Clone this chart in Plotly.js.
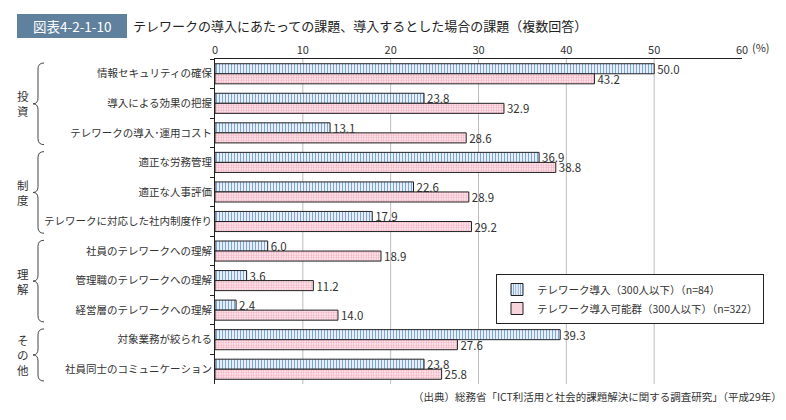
<!DOCTYPE html>
<html>
<head>
<meta charset="utf-8">
<script src="https://cdn.plot.ly/plotly-3.0.1.min.js"></script>
<style>
  body { margin: 0; background: white; overflow: hidden; }
  #chart { width: 786px; height: 420px; }
</style>
</head>
<body>
<div id="chart"></div>
<script>
// categories, top to bottom
const categories = [
    '情報セキュリティの確保',
    '導入による効果の把握',
    'テレワークの導入･運用コスト',
    '適正な労務管理',
    '適正な人事評価',
    'テレワークに対応した社内制度作り',
    '社員のテレワークへの理解',
    '管理職のテレワークへの理解',
    '経営層のテレワークへの理解',
    '対象業務が絞られる',
    '社員同士のコミュニケーション'
];
const adopted = [50.0, 23.8, 13.1, 36.9, 22.6, 17.9, 6.0, 3.6, 2.4, 39.3, 23.8];
const possible = [43.2, 32.9, 28.6, 38.8, 28.9, 29.2, 18.9, 11.2, 14.0, 27.6, 25.8];
const seriesNames = ['テレワーク導入（300人以下）（n=84）', 'テレワーク導入可能群（300人以下）（n=322）'];
const tickValues = [0, 10, 20, 30, 40, 50, 60];
const gridValues = [10, 20, 30, 40, 50];

// group brackets: label, first row, last row (exclusive)
const groupLabels = ['投<br>資', '制<br>度', '理<br>解', 'そ<br>の<br>他'];
const groupStart = [0, 3, 6, 9];
const groupEnd = [3, 6, 9, 11];

const W = 786, H = 420;
const M = { l: 215, r: 44, t: 59, b: 36, autoexpand: false };
const pw = W - M.l - M.r;
const ph = H - M.t - M.b;
const pitch = ph / categories.length;
const fx = p => (p - M.l) / pw;
const fy = p => (H - M.b - p) / ph;

const font = '"Noto Sans CJK JP", "Noto Sans", sans-serif';

const traces = [
    {
        type: 'bar', orientation: 'h',
        name: seriesNames[0],
        y: categories, x: adopted,
        marker: {
            color: 'white',
            line: { color: '#222', width: 1 },
            pattern: { shape: '|', fgcolor: '#7aa5de', bgcolor: 'white', size: 3, solidity: 0.45 }
        },
        text: adopted.map(v => v.toFixed(1)),
        textposition: 'outside',
        constraintext: 'none',
        textfont: { size: 11.5, color: '#333' },
        cliponaxis: false,
        hoverinfo: 'x'
    },
    {
        type: 'bar', orientation: 'h',
        name: seriesNames[1],
        y: categories, x: possible,
        marker: {
            color: '#fdeef2',
            line: { color: '#222', width: 1 },
            pattern: { shape: '.', fgcolor: '#f3a8ba', bgcolor: '#fdf0f4', size: 2.5, solidity: 0.45 }
        },
        text: possible.map(v => v.toFixed(1)),
        textposition: 'outside',
        constraintext: 'none',
        textfont: { size: 11.5, color: '#333' },
        cliponaxis: false,
        hoverinfo: 'x'
    }
];

// curly braces drawn in pixel terms, converted to paper coords
function bracePath(yt, yb) {
    const xr = 44, xs = 38, xp = 33, r = 6;
    const ym = (yt + yb) / 2;
    const P = (x, y) => fx(x) + ',' + fy(y);
    return 'M' + P(xr, yt) + ' Q' + P(xs, yt) + ' ' + P(xs, yt + r) +
        ' L' + P(xs, ym - r) + ' Q' + P(xs, ym) + ' ' + P(xp, ym) +
        ' Q' + P(xs, ym) + ' ' + P(xs, ym + r) +
        ' L' + P(xs, yb - r) + ' Q' + P(xs, yb) + ' ' + P(xr, yb);
}

const shapes = [];
const annotations = [];

// vertical gridlines (not at 0 or 60)
gridValues.forEach(v => {
    shapes.push({
        type: 'line', xref: 'x', yref: 'paper',
        x0: v, x1: v, y0: 0, y1: 1,
        layer: 'below',
        line: { color: '#bdbdbd', width: 1 }
    });
});

groupLabels.forEach((lab, i) => {
    const yt = M.t + groupStart[i] * pitch + 4;
    const yb = M.t + groupEnd[i] * pitch - 3;
    shapes.push({
        type: 'path', xref: 'paper', yref: 'paper',
        path: bracePath(yt, yb),
        line: { color: '#444', width: 1 }
    });
    annotations.push({
        xref: 'paper', yref: 'paper',
        x: fx(23), y: fy((yt + yb) / 2),
        text: lab, showarrow: false,
        xanchor: 'center', yanchor: 'middle',
        font: { size: 11.5, color: '#333', family: font }
    });
});

// figure number box + title
shapes.push({
    type: 'rect', xref: 'paper', yref: 'paper',
    x0: fx(17), x1: fx(127), y0: fy(14), y1: fy(38),
    fillcolor: '#5f819d', line: { width: 0 }
});
annotations.push({
    xref: 'paper', yref: 'paper', x: fx(72), y: fy(26),
    xanchor: 'center', yanchor: 'middle',
    text: '図表4-2-1-10', showarrow: false,
    font: { size: 13.5, color: 'white', family: font }
});
annotations.push({
    xref: 'paper', yref: 'paper', x: fx(131), y: fy(26),
    xanchor: 'left', yanchor: 'middle',
    text: 'テレワークの導入にあたっての課題、導入するとした場合の課題（複数回答）', showarrow: false,
    font: { size: 13, color: '#222', family: font }
});
// unit after the 60 tick
annotations.push({
    xref: 'paper', yref: 'paper', x: fx(750), y: fy(47),
    xanchor: 'left', yanchor: 'middle',
    text: '(%)', showarrow: false,
    font: { size: 11, color: '#333', family: font }
});
// source
annotations.push({
    xref: 'paper', yref: 'paper', x: fx(411), y: fy(396),
    xanchor: 'left', yanchor: 'middle',
    text: '（出典）総務省「ICT利活用と社会的課題解決に関する調査研究」（平成29年）', showarrow: false,
    font: { size: 10.5, color: '#333', family: font }
});

const layout = {
    width: W, height: H,
    margin: M,
    paper_bgcolor: 'white',
    plot_bgcolor: 'white',
    font: { family: font, size: 11, color: '#333' },
    barmode: 'group',
    bargap: 0.32,
    bargroupgap: 0,
    showlegend: true,
    legend: {
        x: fx(496), y: fy(274), xanchor: 'left', yanchor: 'top',
        bordercolor: '#222', borderwidth: 1, bgcolor: 'white',
        font: { size: 10.5, color: '#333', family: font },
        traceorder: 'normal',
        itemwidth: 30
    },
    xaxis: {
        side: 'top',
        range: [0, 60],
        tickvals: tickValues,
        showgrid: false,
        zeroline: false,
        showline: true, linecolor: '#222', linewidth: 1,
        ticks: '', tickfont: { size: 11, color: '#333' },
        automargin: false,
        fixedrange: true
    },
    yaxis: {
        type: 'category',
        autorange: 'reversed',
        showline: true, linecolor: '#222', linewidth: 1,
        ticks: 'outside', ticklen: 4, tickcolor: '#222',
        tickson: 'boundaries',
        showgrid: false,
        tickfont: { size: 10.5, color: '#333' },
        automargin: false,
        fixedrange: true
    },
    shapes: shapes,
    annotations: annotations
};

Plotly.newPlot('chart', traces, layout, { displayModeBar: false, staticPlot: true });
</script>
</body>
</html>
